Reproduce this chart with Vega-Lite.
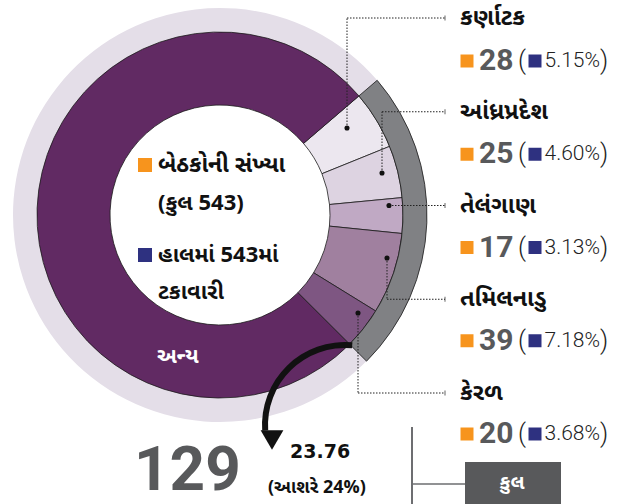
{
  "$schema": "https://vega.github.io/schema/vega-lite/v6.json",
  "width": 636,
  "height": 504,
  "padding": 0,
  "autosize": {"type": "none"},
  "background": "white",
  "config": {
    "view": {"stroke": null},
    "axis": {"disable": true},
    "text": {"font": "Noto Sans Gujarati, Noto Sans, sans-serif"}
  },
  "datasets": {
    "seats": [
      {"state": "કર્ણાટક", "seats": 28, "pct": 0.0515, "order": 1},
      {"state": "આંધ્રપ્રદેશ", "seats": 25, "pct": 0.046, "order": 2},
      {"state": "તેલંગાણ", "seats": 17, "pct": 0.0313, "order": 3},
      {"state": "તમિલનાડુ", "seats": 39, "pct": 0.0718, "order": 4},
      {"state": "કેરળ", "seats": 20, "pct": 0.0368, "order": 5},
      {"state": "અન્ય", "seats": 414, "pct": 0.7624, "order": 6}
    ]
  },
  "resolve": {"scale": {"y": "independent"}},
  "layer": [
    {
      "layer": [
        {
          "data": {"name": "seats"},
          "transform": [{"aggregate": [{"op": "sum", "field": "seats", "as": "total"}]}],
          "mark": {"type": "arc", "radius": 207, "radius2": 183, "fill": "#e4dee8"},
          "encoding": {
            "theta": {"field": "total", "type": "quantitative", "stack": true, "scale": {"range": [0.8622, 7.1454]}},
            "x": {"datum": 220, "type": "quantitative", "scale": {"domain": [0, 636], "nice": false, "zero": false}},
            "y": {"datum": 215, "type": "quantitative", "scale": {"domain": [0, 504], "range": [0, 504], "nice": false, "zero": false}}
          }
        },
        {
          "data": {"name": "seats"},
          "mark": {"type": "arc", "radius": 183, "radius2": 110, "stroke": "#1a1a1a", "strokeWidth": 0.8},
          "encoding": {
            "theta": {"field": "seats", "type": "quantitative", "stack": true, "scale": {"range": [0.8622, 7.1454]}},
            "order": {"field": "order", "type": "quantitative"},
            "color": {"field": "state", "type": "nominal", "legend": null,
              "scale": {"domain": ["કર્ણાટક", "આંધ્રપ્રદેશ", "તેલંગાણ", "તમિલનાડુ", "કેરળ", "અન્ય"],
                        "range": ["#ece7ef", "#ddd3e1", "#c0a9c4", "#a0809f", "#7e5682", "#612a63"]}},
            "x": {"datum": 220, "type": "quantitative"},
            "y": {"datum": 215, "type": "quantitative"}
          }
        },
        {
          "data": {"name": "seats"},
          "transform": [
            {"filter": "datum.order < 6"},
            {"aggregate": [{"op": "sum", "field": "seats", "as": "south"}]}
          ],
          "mark": {"type": "arc", "radius": 207, "radius2": 183, "fill": "#808184", "stroke": "#1a1a1a", "strokeWidth": 0.8},
          "encoding": {
            "theta": {"field": "south", "type": "quantitative", "stack": true},
            "x": {"datum": 220, "type": "quantitative"},
            "y": {"datum": 215, "type": "quantitative"}
          }
        },
        {
          "data": {"values": [{}]},
          "mark": {"type": "arc", "theta": -1.64, "theta2": 0.09, "radius": 83, "radius2": 77, "fill": "#111111"},
          "encoding": {
            "x": {"datum": 345, "type": "quantitative"},
            "y": {"datum": 425, "type": "quantitative"}
          }
        },
        {
          "data": {"values": [{}]},
          "mark": {"type": "point", "shape": "triangle-down", "size": 520, "filled": true, "color": "#111111", "opacity": 1},
          "encoding": {"x": {"datum": 272, "type": "quantitative"}, "y": {"datum": 440, "type": "quantitative"}}
        },
        {"data": {"values": [{}]}, "mark": {"type": "rule", "strokeDash": [1.5, 1.5], "color": "#222", "strokeWidth": 1},
          "encoding": {"x": {"datum": 347, "type": "quantitative"}, "y": {"datum": 128, "type": "quantitative"}, "y2": {"datum": 18}}},
        {"data": {"values": [{}]}, "mark": {"type": "rule", "strokeDash": [1.5, 1.5], "color": "#222", "strokeWidth": 1},
          "encoding": {"x": {"datum": 347, "type": "quantitative"}, "x2": {"datum": 445}, "y": {"datum": 18, "type": "quantitative"}}},
        {"data": {"values": [{}]}, "mark": {"type": "rule", "strokeDash": [1.5, 1.5], "color": "#222", "strokeWidth": 1},
          "encoding": {"x": {"datum": 382, "type": "quantitative"}, "y": {"datum": 173, "type": "quantitative"}, "y2": {"datum": 111.75}}},
        {"data": {"values": [{}]}, "mark": {"type": "rule", "strokeDash": [1.5, 1.5], "color": "#222", "strokeWidth": 1},
          "encoding": {"x": {"datum": 382, "type": "quantitative"}, "x2": {"datum": 445}, "y": {"datum": 111.75, "type": "quantitative"}}},
        {"data": {"values": [{}]}, "mark": {"type": "rule", "strokeDash": [1.5, 1.5], "color": "#222", "strokeWidth": 1},
          "encoding": {"x": {"datum": 389, "type": "quantitative"}, "x2": {"datum": 445}, "y": {"datum": 205.5, "type": "quantitative"}}},
        {"data": {"values": [{}]}, "mark": {"type": "rule", "strokeDash": [1.5, 1.5], "color": "#222", "strokeWidth": 1},
          "encoding": {"x": {"datum": 387, "type": "quantitative"}, "y": {"datum": 258, "type": "quantitative"}, "y2": {"datum": 299.25}}},
        {"data": {"values": [{}]}, "mark": {"type": "rule", "strokeDash": [1.5, 1.5], "color": "#222", "strokeWidth": 1},
          "encoding": {"x": {"datum": 387, "type": "quantitative"}, "x2": {"datum": 445}, "y": {"datum": 299.25, "type": "quantitative"}}},
        {"data": {"values": [{}]}, "mark": {"type": "rule", "strokeDash": [1.5, 1.5], "color": "#222", "strokeWidth": 1},
          "encoding": {"x": {"datum": 358, "type": "quantitative"}, "y": {"datum": 313, "type": "quantitative"}, "y2": {"datum": 393}}},
        {"data": {"values": [{}]}, "mark": {"type": "rule", "strokeDash": [1.5, 1.5], "color": "#222", "strokeWidth": 1},
          "encoding": {"x": {"datum": 358, "type": "quantitative"}, "x2": {"datum": 445}, "y": {"datum": 393, "type": "quantitative"}}},
        {"data": {"values": [{}]}, "mark": {"type": "point", "filled": true, "color": "#111", "size": 26, "opacity": 1},
          "encoding": {"x": {"datum": 347, "type": "quantitative"}, "y": {"datum": 128, "type": "quantitative"}}},
        {"data": {"values": [{}]}, "mark": {"type": "point", "filled": true, "color": "#111", "size": 26, "opacity": 1},
          "encoding": {"x": {"datum": 382, "type": "quantitative"}, "y": {"datum": 173, "type": "quantitative"}}},
        {"data": {"values": [{}]}, "mark": {"type": "point", "filled": true, "color": "#111", "size": 26, "opacity": 1},
          "encoding": {"x": {"datum": 389, "type": "quantitative"}, "y": {"datum": 205.5, "type": "quantitative"}}},
        {"data": {"values": [{}]}, "mark": {"type": "point", "filled": true, "color": "#111", "size": 26, "opacity": 1},
          "encoding": {"x": {"datum": 387, "type": "quantitative"}, "y": {"datum": 258, "type": "quantitative"}}},
        {"data": {"values": [{}]}, "mark": {"type": "point", "filled": true, "color": "#111", "size": 26, "opacity": 1},
          "encoding": {"x": {"datum": 358, "type": "quantitative"}, "y": {"datum": 313, "type": "quantitative"}}},
        {"data": {"values": [{}]}, "mark": {"type": "point", "shape": "square", "filled": true, "color": "#f7941d", "size": 196, "opacity": 1},
          "encoding": {"x": {"datum": 145, "type": "quantitative"}, "y": {"datum": 165, "type": "quantitative"}}},
        {"data": {"values": [{}]}, "mark": {"type": "point", "shape": "square", "filled": true, "color": "#2e3180", "size": 196, "opacity": 1},
          "encoding": {"x": {"datum": 145, "type": "quantitative"}, "y": {"datum": 255, "type": "quantitative"}}},
        {"data": {"values": [{}]}, "mark": {"type": "text", "text": "બેઠકોની સંખ્યા", "align": "left", "baseline": "middle", "fontSize": 23, "fontWeight": "bold", "color": "#111"},
          "encoding": {"x": {"datum": 158, "type": "quantitative"}, "y": {"datum": 165, "type": "quantitative"}}},
        {"data": {"values": [{}]}, "mark": {"type": "text", "text": "(કુલ 543)", "align": "left", "baseline": "middle", "fontSize": 22, "fontWeight": "bold", "color": "#111"},
          "encoding": {"x": {"datum": 158, "type": "quantitative"}, "y": {"datum": 203, "type": "quantitative"}}},
        {"data": {"values": [{}]}, "mark": {"type": "text", "text": "હાલમાં 543માં", "align": "left", "baseline": "middle", "fontSize": 22, "fontWeight": "bold", "color": "#111"},
          "encoding": {"x": {"datum": 158, "type": "quantitative"}, "y": {"datum": 255, "type": "quantitative"}}},
        {"data": {"values": [{}]}, "mark": {"type": "text", "text": "ટકાવારી", "align": "left", "baseline": "middle", "fontSize": 22, "fontWeight": "bold", "color": "#111"},
          "encoding": {"x": {"datum": 158, "type": "quantitative"}, "y": {"datum": 292, "type": "quantitative"}}},
        {"data": {"values": [{}]}, "mark": {"type": "text", "text": "અન્ય", "align": "left", "baseline": "middle", "fontSize": 21, "fontWeight": "bold", "color": "white"},
          "encoding": {"x": {"datum": 157, "type": "quantitative"}, "y": {"datum": 357, "type": "quantitative"}}},
        {
          "data": {"name": "seats"},
          "transform": [
            {"filter": "datum.order < 6"},
            {"aggregate": [{"op": "sum", "field": "seats", "as": "south"}]}
          ],
          "mark": {"type": "text", "align": "left", "baseline": "alphabetic", "fontSize": 62, "fontWeight": "bold", "color": "#58595b", "font": "Roboto, Liberation Sans, sans-serif"},
          "encoding": {
            "text": {"field": "south", "type": "quantitative"},
            "x": {"datum": 134, "type": "quantitative"},
            "y": {"datum": 490, "type": "quantitative"}
          }
        },
        {"data": {"values": [{}]}, "mark": {"type": "text", "text": "23.76", "align": "left", "baseline": "middle", "fontSize": 19, "fontWeight": "bold", "color": "#111", "font": "DejaVu Sans, sans-serif"},
          "encoding": {"x": {"datum": 290, "type": "quantitative"}, "y": {"datum": 452, "type": "quantitative"}}},
        {"data": {"values": [{}]}, "mark": {"type": "text", "text": "(આશરે 24%)", "align": "left", "baseline": "middle", "fontSize": 18, "fontWeight": "bold", "color": "#111"},
          "encoding": {"x": {"datum": 268, "type": "quantitative"}, "y": {"datum": 488, "type": "quantitative"}}},
        {"data": {"values": [{}]}, "mark": {"type": "rule", "color": "#6d6e71", "strokeWidth": 2},
          "encoding": {"x": {"datum": 412, "type": "quantitative"}, "y": {"datum": 427, "type": "quantitative"}, "y2": {"datum": 504}}},
        {"data": {"values": [{}]}, "mark": {"type": "rule", "color": "#6d6e71", "strokeWidth": 1.5},
          "encoding": {"x": {"datum": 412, "type": "quantitative"}, "x2": {"datum": 466}, "y": {"datum": 484, "type": "quantitative"}}},
        {"data": {"values": [{}]}, "mark": {"type": "rect", "color": "#58595b"},
          "encoding": {"x": {"datum": 465, "type": "quantitative"}, "x2": {"datum": 561}, "y": {"datum": 462, "type": "quantitative"}, "y2": {"datum": 504}}},
        {"data": {"values": [{}]}, "mark": {"type": "text", "text": "કુલ", "align": "center", "baseline": "middle", "fontSize": 20, "fontWeight": "bold", "color": "white"},
          "encoding": {"x": {"datum": 512, "type": "quantitative"}, "y": {"datum": 483, "type": "quantitative"}}}
      ]
    },
    {
      "data": {"name": "seats"},
      "transform": [{"filter": "datum.order < 6"}],
      "encoding": {
        "y": {"field": "state", "type": "nominal", "axis": null,
          "scale": {"type": "point", "domain": ["કર્ણાટક", "આંધ્રપ્રદેશ", "તેલંગાણ", "તમિલનાડુ", "કેરળ"], "range": [18, 393], "padding": 0}}
      },
      "layer": [
        {"mark": {"type": "text", "align": "left", "baseline": "middle", "fontSize": 23.5, "fontWeight": "bold", "color": "#111"},
          "encoding": {"x": {"datum": 460, "type": "quantitative"}, "text": {"field": "state", "type": "nominal"}}},
        {"mark": {"type": "tick", "color": "#222", "size": 5, "thickness": 1, "orient": "vertical"},
          "encoding": {"x": {"datum": 445, "type": "quantitative"}}}
      ]
    },
    {
      "data": {"name": "seats"},
      "transform": [{"filter": "datum.order < 6"}],
      "encoding": {
        "y": {"field": "state", "type": "nominal", "axis": null,
          "scale": {"type": "point", "domain": ["કર્ણાટક", "આંધ્રપ્રદેશ", "તેલંગાણ", "તમિલનાડુ", "કેરળ"], "range": [61, 434], "padding": 0}}
      },
      "layer": [
        {"mark": {"type": "point", "shape": "square", "filled": true, "color": "#f7941d", "size": 169, "opacity": 1},
          "encoding": {"x": {"datum": 467, "type": "quantitative"}}},
        {"mark": {"type": "text", "align": "left", "baseline": "middle", "fontSize": 30, "fontWeight": "bold", "color": "#58595b", "font": "Roboto, Liberation Sans, sans-serif"},
          "encoding": {"x": {"datum": 479, "type": "quantitative"}, "text": {"field": "seats", "type": "quantitative"}}},
        {"mark": {"type": "text", "text": "(", "align": "left", "baseline": "middle", "fontSize": 25, "fontWeight": 300, "color": "#222", "font": "Roboto, Liberation Sans, sans-serif"},
          "encoding": {"x": {"datum": 518, "type": "quantitative"}}},
        {"mark": {"type": "point", "shape": "square", "filled": true, "color": "#2e3180", "size": 169, "opacity": 1},
          "encoding": {"x": {"datum": 535, "type": "quantitative"}}},
        {"mark": {"type": "text", "align": "right", "baseline": "middle", "fontSize": 21, "fontWeight": 300, "color": "#222", "font": "Roboto, Liberation Sans, sans-serif"},
          "encoding": {"x": {"datum": 600, "type": "quantitative"}, "text": {"field": "pct", "type": "quantitative", "format": ".2%"}}},
        {"mark": {"type": "text", "text": ")", "align": "left", "baseline": "middle", "fontSize": 25, "fontWeight": 300, "color": "#222", "font": "Roboto, Liberation Sans, sans-serif"},
          "encoding": {"x": {"datum": 600, "type": "quantitative"}}}
      ]
    }
  ]
}
